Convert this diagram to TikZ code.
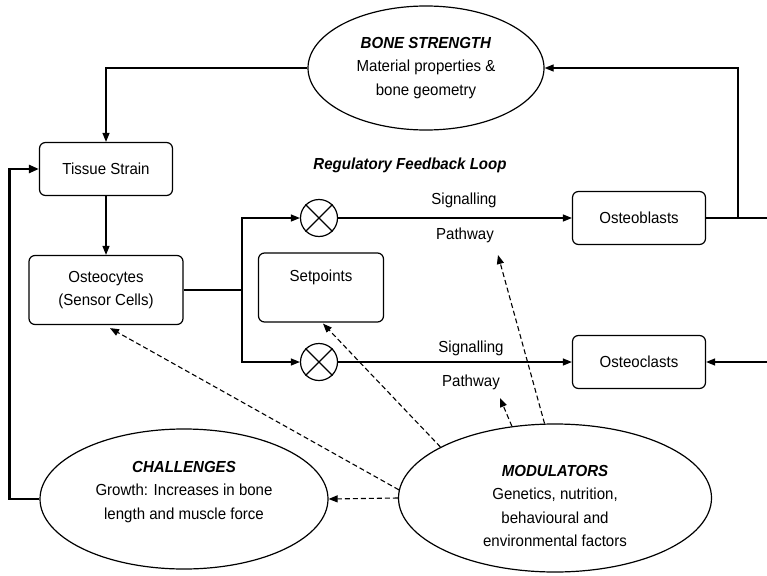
\documentclass[tikz,border=0pt]{standalone}
\usepackage{fontspec}
\setmainfont{Liberation Sans}[FakeStretch=0.94]
\usepackage{tikz}
\usetikzlibrary{arrows.meta,shapes.geometric,calc}

\tikzset{
  every node/.style={font=\fontsize{16}{23.5}\selectfont},
  box/.style={draw,line width=1.2pt,rounded corners=6pt,align=center,
    minimum width=133pt,minimum height=53pt,inner sep=2pt},
  oval/.style={draw,ellipse,line width=1.2pt,align=center,inner sep=0pt},
  junc/.style={draw,circle,line width=1.2pt,minimum size=37pt,inner sep=0pt},
  link/.style={line width=1.2pt,-{Triangle[length=9pt,width=7pt]}},
  loopback/.style={line width=2.4pt,-{Triangle[length=10pt,width=8pt]}},
  modlink/.style={line width=1.1pt,dash pattern=on 5pt off 3pt,
    -{Triangle[length=9pt,width=7pt]}},
  heading/.style={font=\fontsize{16}{23.5}\selectfont\bfseries\itshape}
}

\begin{document}
\begin{tikzpicture}[x=1pt,y=-1pt]
  \useasboundingbox (0,0) rectangle (767,575);

  % main blocks
  \node[oval,minimum width=236pt,minimum height=124pt] (strength) at (426,68)
    {\textbf{\textit{BONE STRENGTH}}\\Material properties \&\\bone geometry};
  \node[box] (tissue) at (106,169) {Tissue Strain};
  \node[box,minimum width=154pt,minimum height=69pt] (cytes) at (106,290)
    {Osteocytes\\(Sensor Cells)};
  \node[box,minimum width=125pt,minimum height=69pt] (setp) at (321,287.5)
    {Setpoints\\\mbox{}};
  \node[box] (blasts) at (639,218) {Osteoblasts};
  \node[box] (clasts) at (639,362) {Osteoclasts};
  \node[oval,minimum width=288pt,minimum height=140pt] (chall) at (184,499) {};
  \node[align=center] (challtext) at (184,492)
    {\textbf{\textit{CHALLENGES}}\\Growth: Increases in bone\\length and muscle force};
  \node[oval,minimum width=313pt,minimum height=148pt] (modul) at (555,498) {};
  \node[align=center] (modultext) at (555,506)
    {\textbf{\textit{MODULATORS}}\\Genetics, nutrition,\\behavioural and\\environmental factors};

  % comparators
  \node[junc] (jup) at (319,218) {};
  \node[junc] (jdn) at (319,362) {};
  \draw[line width=1.1pt] (jup.north west) -- (jup.south east)
    (jup.north east) -- (jup.south west);
  \draw[line width=1.1pt] (jdn.north west) -- (jdn.south east)
    (jdn.north east) -- (jdn.south west);

  % labels
  \node[heading] (loopname) at (410,165) {Regulatory Feedback Loop};
  \node (sigA) at (464,200) {Signalling};
  \node (pathA) at (465,235) {Pathway};
  \node (sigB) at (471,348) {Signalling};
  \node (pathB) at (471,382) {Pathway};

  \coordinate (split) at (242,290);
  \coordinate (tap) at (738,218);
  \coordinate (edgeA) at (767,218);
  \coordinate (edgeB) at (767,362);
  \coordinate (tipA) at (498,255);
  \coordinate (tipB) at (500,398);

  % feedback loop
  \draw[link] (strength.west) -| (tissue.north);
  \draw[link] (tissue.south) -- (cytes.north);
  \draw[line width=1.2pt] (cytes.east) -- (split);
  \draw[link] (split) |- (jup.west);
  \draw[link] (split) |- (jdn.west);
  \draw[link] (jup.east) -- (blasts.west);
  \draw[link] (jdn.east) -- (clasts.west);
  \draw[line width=1.2pt] (blasts.east) -- (edgeA);
  \draw[link] (tap) |- (strength.east);
  \draw[link] (edgeB) -- (clasts.east);
  \draw[loopback] (chall.west) -- ++(-30,0) |- (tissue.west);

  % modulators
  \draw[modlink] (modul.west) -- (chall.east);
  \draw[modlink] (modul.177) -- ($(cytes.south)+(4,3)$);
  \draw[modlink] (modul.156) -- ($(setp.south)+(2,1)$);
  \draw[modlink] (modul.121) -- (tipB);
  \draw[modlink] (modul.98) -- (tipA);
\end{tikzpicture}
\end{document}
